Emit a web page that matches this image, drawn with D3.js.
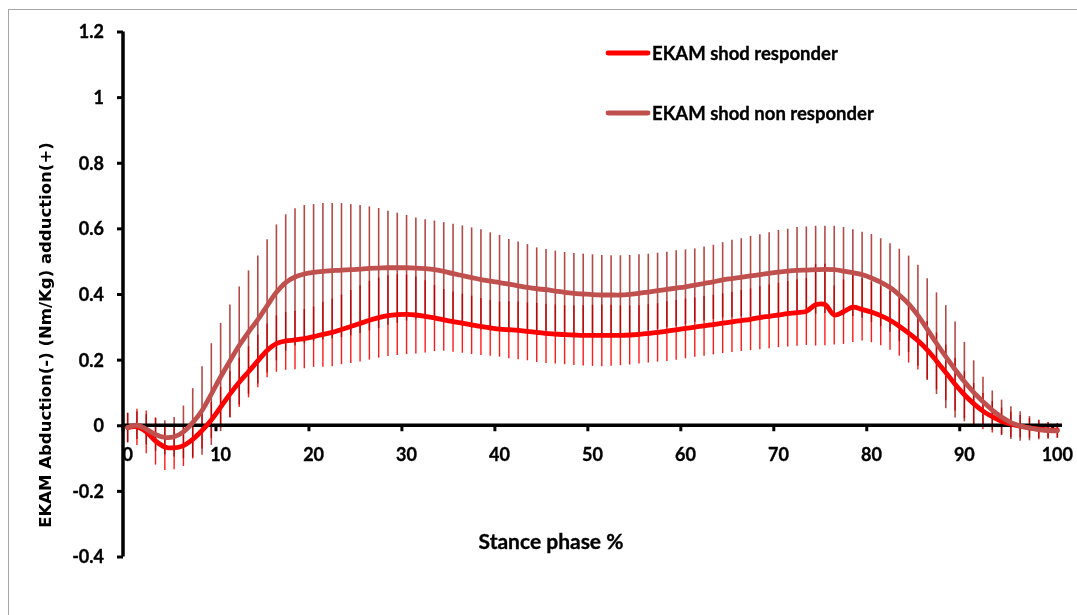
<!DOCTYPE html>
<html>
<head>
<meta charset="utf-8">
<script src="https://cdn.jsdelivr.net/npm/d3@7"></script>
<style>
  html, body { margin: 0; padding: 0; background: #fff; }
  svg { display: block; }
  .tick-label { font-family: Lato, "Open Sans", sans-serif; font-weight: 700; fill: #000; stroke: #000; stroke-width: 0.35px; }
</style>
</head>
<body>
<svg id="chart" width="1077" height="615"></svg>
<script>
// Stance phase, 0..100 % in 1 % steps
const phase = d3.range(0, 101);

// External knee adduction moment, shod responders (mean, SD)
const responderMean = [
  -0.007, -0.005, -0.020, -0.048, -0.066, -0.069, -0.062, -0.043, -0.016, 0.016,
  0.055, 0.095, 0.131, 0.163, 0.196, 0.228, 0.249, 0.257, 0.260, 0.264,
  0.270, 0.277, 0.283, 0.292, 0.301, 0.310, 0.320, 0.328, 0.334, 0.337,
  0.338, 0.336, 0.332, 0.327, 0.321, 0.316, 0.311, 0.306, 0.301, 0.297,
  0.293, 0.291, 0.289, 0.286, 0.283, 0.280, 0.278, 0.276, 0.275, 0.274,
  0.274, 0.274, 0.274, 0.274, 0.275, 0.277, 0.280, 0.283, 0.287, 0.291,
  0.295, 0.299, 0.303, 0.307, 0.311, 0.315, 0.319, 0.323, 0.328, 0.332,
  0.336, 0.340, 0.343, 0.347, 0.367, 0.368, 0.336, 0.346, 0.360, 0.353,
  0.345, 0.334, 0.320, 0.302, 0.281, 0.258, 0.230, 0.196, 0.161, 0.125,
  0.093, 0.066, 0.043, 0.026, 0.012, 0.003, -0.003, -0.008, -0.012, -0.014,
  -0.015
];
const responderSD = [
  0.045, 0.055, 0.065, 0.072, 0.070, 0.065, 0.062, 0.058, 0.055, 0.055,
  0.062, 0.070, 0.075, 0.078, 0.080, 0.082, 0.086, 0.088, 0.089, 0.090,
  0.092, 0.099, 0.103, 0.106, 0.111, 0.116, 0.120, 0.122, 0.123, 0.123,
  0.121, 0.117, 0.110, 0.101, 0.094, 0.092, 0.090, 0.089, 0.087, 0.085,
  0.084, 0.087, 0.088, 0.088, 0.090, 0.090, 0.090, 0.090, 0.091, 0.092,
  0.093, 0.094, 0.093, 0.091, 0.090, 0.089, 0.089, 0.089, 0.091, 0.091,
  0.091, 0.090, 0.091, 0.091, 0.091, 0.092, 0.093, 0.094, 0.096, 0.097,
  0.098, 0.100, 0.101, 0.102, 0.124, 0.124, 0.090, 0.098, 0.106, 0.095,
  0.092, 0.090, 0.090, 0.090, 0.090, 0.088, 0.088, 0.087, 0.085, 0.080,
  0.072, 0.063, 0.055, 0.048, 0.042, 0.038, 0.034, 0.030, 0.027, 0.024,
  0.022
];

// External knee adduction moment, shod non-responders (mean, SD)
const nonResponderMean = [
  -0.007, 0.000, -0.012, -0.028, -0.037, -0.035, -0.020, 0.008, 0.045, 0.095,
  0.147, 0.196, 0.243, 0.284, 0.322, 0.364, 0.405, 0.435, 0.452, 0.461,
  0.466, 0.469, 0.471, 0.473, 0.474, 0.476, 0.478, 0.479, 0.480, 0.480,
  0.480, 0.479, 0.477, 0.474, 0.469, 0.462, 0.456, 0.450, 0.444, 0.439,
  0.435, 0.430, 0.425, 0.420, 0.416, 0.413, 0.409, 0.405, 0.402, 0.400,
  0.398, 0.397, 0.397, 0.397, 0.399, 0.402, 0.406, 0.410, 0.414, 0.418,
  0.422, 0.427, 0.432, 0.437, 0.443, 0.447, 0.451, 0.455, 0.459, 0.463,
  0.467, 0.470, 0.472, 0.473, 0.474, 0.475, 0.474, 0.470, 0.465, 0.459,
  0.449, 0.436, 0.420, 0.397, 0.370, 0.335, 0.293, 0.250, 0.209, 0.170,
  0.133, 0.100, 0.072, 0.046, 0.025, 0.008, -0.002, -0.009, -0.013, -0.016,
  -0.017
];
const nonResponderSD = [
  0.045, 0.042, 0.046, 0.050, 0.052, 0.060, 0.080, 0.105, 0.135, 0.155,
  0.165, 0.172, 0.180, 0.188, 0.195, 0.203, 0.207, 0.208, 0.209, 0.210,
  0.208, 0.208, 0.206, 0.204, 0.200, 0.195, 0.189, 0.183, 0.174, 0.168,
  0.161, 0.154, 0.151, 0.150, 0.150, 0.152, 0.153, 0.153, 0.153, 0.149,
  0.145, 0.138, 0.135, 0.132, 0.126, 0.124, 0.123, 0.123, 0.123, 0.123,
  0.123, 0.122, 0.121, 0.121, 0.120, 0.119, 0.117, 0.116, 0.115, 0.115,
  0.114, 0.112, 0.113, 0.113, 0.115, 0.118, 0.119, 0.122, 0.123, 0.125,
  0.128, 0.129, 0.132, 0.133, 0.134, 0.133, 0.134, 0.134, 0.132, 0.131,
  0.134, 0.134, 0.135, 0.141, 0.147, 0.154, 0.155, 0.155, 0.157, 0.146,
  0.121, 0.098, 0.076, 0.060, 0.053, 0.050, 0.045, 0.037, 0.030, 0.025,
  0.022
];

const yTicks = [-0.4, -0.2, 0, 0.2, 0.4, 0.6, 0.8, 1, 1.2];
const xTickLabels = [0, 10, 20, 30, 40, 50, 60, 70, 80, 90, 100];

const seriesNames = ["EKAM shod responder", "EKAM shod non responder"];
const seriesColors = ["#ff0000", "#c0504d"];

const svg = d3.select("#chart");

// outer chart frame
svg.append("rect")
  .attr("x", 8.5).attr("y", 9.5)
  .attr("width", 1100).attr("height", 640)
  .attr("fill", "#fff").attr("stroke", "#a6a6a6").attr("stroke-width", 1);

const x = d3.scaleBand().domain(phase).range([123, 1062]).paddingInner(0).paddingOuter(0);
const cx = i => x(i) + x.bandwidth() / 2;
const y = d3.scaleLinear().domain([-0.4, 1.2]).range([556.5, 31.5]);

const series = [
  { name: seriesNames[0], color: seriesColors[0], mean: responderMean, sd: responderSD },
  { name: seriesNames[1], color: seriesColors[1], mean: nonResponderMean, sd: nonResponderSD }
];

// error bars (non-responders underneath, responders blended on top)
const barsNR = svg.append("g");
barsNR.selectAll("line").data(phase).join("line")
  .attr("x1", i => cx(i)).attr("x2", i => cx(i))
  .attr("y1", i => y(nonResponderMean[i] + nonResponderSD[i]))
  .attr("y2", i => y(nonResponderMean[i] - nonResponderSD[i]))
  .attr("stroke", "#b44a48").attr("stroke-width", 1.6);

const barsR = svg.append("g").style("mix-blend-mode", "multiply");
barsR.selectAll("line").data(phase).join("line")
  .attr("x1", i => cx(i)).attr("x2", i => cx(i))
  .attr("y1", i => y(responderMean[i] + responderSD[i]))
  .attr("y2", i => y(responderMean[i] - responderSD[i]))
  .attr("stroke", "#ff1a1a").attr("stroke-width", 1.4);

// axes
const yAxis = svg.append("g").attr("transform", "translate(123,0)")
  .call(d3.axisLeft(y).tickValues(yTicks).tickSize(6).tickFormat(d => String(d)));
yAxis.select(".domain").attr("stroke", "#000").attr("stroke-width", 3.5)
  .attr("d", `M0,${y(1.2)}V${y(-0.4)}`);
yAxis.selectAll(".tick line").attr("stroke", "#000").attr("stroke-width", 3);
yAxis.selectAll(".tick text").attr("class", "tick-label")
  .attr("x", -19).attr("dy", "0.36em").style("font-size", "18px");

const xAxisG = svg.append("g").attr("transform", `translate(0,${y(0)})`);
xAxisG.append("line")
  .attr("x1", 123).attr("x2", 1062).attr("y1", 0).attr("y2", 0)
  .attr("stroke", "#000").attr("stroke-width", 3.5);
xAxisG.selectAll("line.tk").data(xTickLabels).join("line").attr("class", "tk")
  .attr("x1", d => x(d)).attr("x2", d => x(d))
  .attr("y1", 0).attr("y2", 6)
  .attr("stroke", "#000").attr("stroke-width", 3);
xAxisG.selectAll("text").data(xTickLabels).join("text")
  .attr("class", "tick-label")
  .attr("x", d => cx(d)).attr("y", 36)
  .attr("text-anchor", "middle").style("font-size", "18px")
  .text(d => d);

// mean curves
const line = mean => d3.line()
  .x(i => cx(i)).y(i => y(mean[i]))
  .curve(d3.curveCatmullRom.alpha(0.5))(phase);

series.forEach(s => {
  svg.append("path")
    .attr("d", line(s.mean))
    .attr("fill", "none").attr("stroke", s.color)
    .attr("stroke-width", 4.8).attr("stroke-linejoin", "round").attr("stroke-linecap", "round");
});

// legend
const legend = svg.append("g");
series.forEach((s, k) => {
  const ly = 53 + k * 60;
  legend.append("line")
    .attr("x1", 608).attr("x2", 648).attr("y1", ly).attr("y2", ly)
    .attr("stroke", s.color).attr("stroke-width", 4.8).attr("stroke-linecap", "round");
  legend.append("text")
    .attr("x", 652).attr("y", ly).attr("dy", "0.36em")
    .attr("class", "tick-label").style("font-size", "18.5px")
    .text(s.name);
});

// axis titles
svg.append("text")
  .attr("x", 551).attr("y", 541).attr("dy", "0.36em")
  .attr("text-anchor", "middle")
  .attr("class", "tick-label").style("font-size", "21px")
  .text("Stance phase %");

svg.append("text")
  .attr("transform", "translate(45,335) rotate(-90)")
  .attr("text-anchor", "middle").attr("dy", "0.36em")
  .style("font-family", "'DejaVu Sans', Verdana, sans-serif")
  .style("font-weight", "700").style("font-size", "16.5px")
  .text("EKAM Abduction(-) (Nm/Kg) adduction(+)");
</script>
</body>
</html>
